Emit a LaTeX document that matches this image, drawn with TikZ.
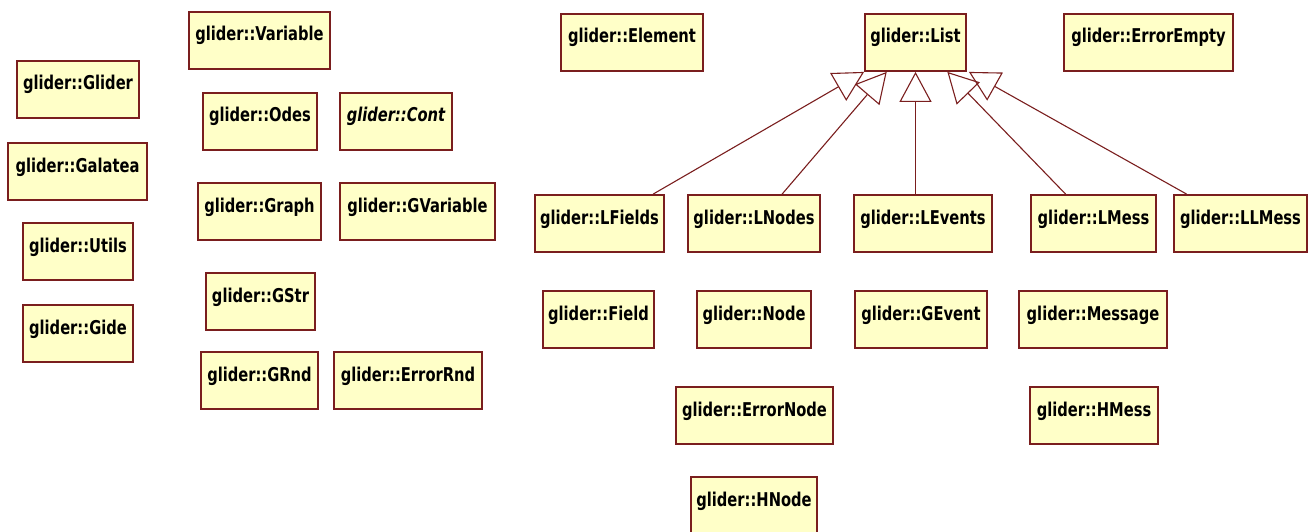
\documentclass[tikz,border=0pt]{standalone}
\usepackage{fontspec}
\setmainfont{DejaVu Sans Condensed}[FakeStretch=0.86]
\usetikzlibrary{arrows.meta,calc}
\definecolor{clsfill}{RGB}{255,255,200}
\definecolor{clsline}{RGB}{122,30,30}
\tikzset{
  clsbox/.style={draw=clsline, line width=1.8pt, fill=clsfill,
    font=\bfseries\fontsize{19}{21}\selectfont,
    inner xsep=0pt, inner ysep=0pt, text height=29pt, text depth=28pt},
  gen/.style={draw=clsline, line width=1.1pt,
    -{Triangle[open, length=30pt, width=32pt]}}
}
% \umlclass[options]{name}{left}{top}{right}{label}
\newcommand\umlclass[6][]{%
  \node[clsbox, #1, minimum width={#5-#3}] (#2) at ({(#3+#5)/2},{#4+28.5}) {#6};}

\begin{document}
\begin{tikzpicture}[x=1pt, y=-1pt]
\useasboundingbox (0,0) rectangle (1311,532);

% free-standing classes, left part
\umlclass{Glider}{17}{61}{139}{glider::Glider}
\umlclass{Galatea}{8}{143}{147}{glider::Galatea}
\umlclass{Utils}{23}{223}{133}{glider::Utils}
\umlclass{Gide}{23}{305}{133}{glider::Gide}
\umlclass{Variable}{189}{12}{330}{glider::Variable}
\umlclass{Odes}{203}{93}{317}{glider::Odes}
\umlclass[font=\bfseries\itshape\fontsize{19}{21}\selectfont]{Cont}{340}{93}{452}{glider::Cont}
\umlclass{Graph}{198}{183}{321}{glider::Graph}
\umlclass{GVariable}{340}{183}{495}{glider::GVariable}
\umlclass{GStr}{206}{273}{315}{glider::GStr}
\umlclass{GRnd}{201}{352}{318}{glider::GRnd}
\umlclass{ErrorRnd}{334}{352}{482}{glider::ErrorRnd}

% list hierarchy
\umlclass{Element}{561}{14}{703}{glider::Element}
\umlclass{List}{865}{14}{966}{glider::List}
\umlclass{ErrorEmpty}{1064}{14}{1233}{glider::ErrorEmpty}
\umlclass{LFields}{535}{195}{664}{glider::LFields}
\umlclass{LNodes}{688}{195}{820}{glider::LNodes}
\umlclass{LEvents}{854}{195}{992}{glider::LEvents}
\umlclass{LMess}{1031}{195}{1156}{glider::LMess}
\umlclass{LLMess}{1174}{195}{1307}{glider::LLMess}

% element classes
\umlclass{Field}{543}{291}{654}{glider::Field}
\umlclass{Node}{697}{291}{811}{glider::Node}
\umlclass{GEvent}{855}{291}{987}{glider::GEvent}
\umlclass{Message}{1019}{291}{1167}{glider::Message}
\umlclass{ErrorNode}{676}{387}{833}{glider::ErrorNode}
\umlclass{HMess}{1030}{387}{1158}{glider::HMess}
\umlclass{HNode}{691}{477}{817}{glider::HNode}

% generalizations towards glider::List
\draw[gen] ($(LFields.north west)!0.91!(LFields.north east)$) -- (List.south west);
\draw[gen] ($(LNodes.north west)!0.71!(LNodes.north east)$) -- ($(List.south west)!0.22!(List.south east)$);
\draw[gen] (LEvents.north -| List.south) -- (List.south);
\draw[gen] ($(LMess.north west)!0.28!(LMess.north east)$) -- ($(List.south west)!0.81!(List.south east)$);
\draw[gen] ($(LLMess.north west)!0.10!(LLMess.north east)$) -- ($(List.south east)+(2,0)$);
\end{tikzpicture}
\end{document}
